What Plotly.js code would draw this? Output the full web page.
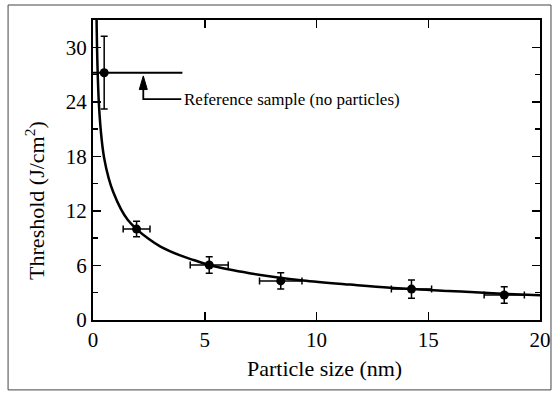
<!DOCTYPE html>
<html>
<head>
<meta charset="utf-8">
<script src="https://cdn.plot.ly/plotly-3.0.1.min.js"></script>
<style>html,body{margin:0;padding:0;background:#fff;}#chart{width:558px;height:395px;}</style>
</head>
<body>
<div id="chart"></div>
<script>
// Measured points
const sizeNm      = [0.5, 1.95, 5.2, 8.4, 14.25, 18.4];
const thresholdJ  = [27.2, 10.0, 6.05, 4.3, 3.4, 2.75];
const thresholdErr= [4.0, 0.85, 0.9, 0.9, 1.0, 0.9];
const sizeErr     = [0, 0.6, 0.85, 0.95, 0.9, 0.9];

// Fitted curve
const fitX = [0.16, 0.2, 0.27, 0.39, 0.5, 0.7, 0.9, 1.25, 1.56, 1.95, 2.5, 3.0, 3.9, 4.5, 5.2, 6.1, 7.0, 8.2, 9.4, 11.5, 13.3, 15.9, 18.3, 20];
const fitY = [33, 28, 23.5, 19.8, 17.8, 15.6, 14.1, 12.2, 11.0, 10.0, 8.9, 8.1, 7.1, 6.6, 6.05, 5.55, 5.15, 4.7, 4.35, 3.9, 3.55, 3.2, 2.9, 2.72];

// Reference sample level
const refLevel = 27.2;
const refLineEnd = 4.0;
const refLabel = "Reference sample (no particles)";

const xTicks = [0, 5, 10, 15, 20];
const yTicks = [0, 6, 12, 18, 24, 30];
const xTitle = 'Particle size (nm)';
const yTitle = 'Threshold (J/cm<sup>2</sup>)';

const FONT = "Liberation Serif, Times New Roman, serif";

const traces = [
  {
    x: fitX, y: fitY, mode: 'lines', type: 'scatter',
    line: {color: '#000', width: 2.5, shape: 'spline', smoothing: 1},
    hoverinfo: 'skip', showlegend: false
  },
  {
    x: sizeNm, y: thresholdJ, mode: 'markers', type: 'scatter',
    marker: {symbol: 'circle', size: 9, color: '#000'},
    error_y: {type: 'data', array: thresholdErr, visible: true, color: '#000', thickness: 1.5, width: 3.5},
    error_x: {type: 'data', array: sizeErr, visible: true, color: '#000', thickness: 1.5, width: 3.5},
    showlegend: false
  }
];

const layout = {
  width: 558, height: 395,
  margin: {l: 93, r: 18, t: 20, b: 75},
  paper_bgcolor: '#fff', plot_bgcolor: '#fff',
  font: {family: FONT, color: '#000', size: 21},
  showlegend: false,
  xaxis: {
    range: [0, 20], tickvals: xTicks, ticktext: xTicks.map(String),
    ticks: 'inside', ticklen: 8, tickwidth: 1.5, tickcolor: '#000',
    showline: true, linecolor: '#000', linewidth: 2, mirror: 'allticks',
    showgrid: false, zeroline: false,
    tickfont: {family: FONT, size: 21, color: '#000'}
  },
  yaxis: {
    range: [0, 33], tickvals: yTicks, ticktext: yTicks.map(String),
    ticks: 'inside', ticklen: 8, tickwidth: 1.5, tickcolor: '#000',
    minor: {tickvals: [3, 9, 15, 21, 27], ticks: 'inside', ticklen: 5, tickwidth: 1.5, tickcolor: '#000'},
    showline: true, linecolor: '#000', linewidth: 2, mirror: 'allticks',
    showgrid: false, zeroline: false,
    tickfont: {family: FONT, size: 21, color: '#000'}
  },
  shapes: [
    {type: 'rect', xref: 'paper', yref: 'paper', x0: -0.19, x1: 1.0246, y0: -0.233, y1: 1.05,
     line: {color: '#444', width: 1}, fillcolor: 'rgba(0,0,0,0)', layer: 'below'},
    {type: 'line', xref: 'x', yref: 'y', x0: -0.3, x1: refLineEnd, y0: refLevel, y1: refLevel,
     line: {color: '#000', width: 2}},
    {type: 'path', xref: 'x', yref: 'y',
     path: 'M 2.25 25.6 L 2.25 24.3 L 3.95 24.3',
     line: {color: '#000', width: 1.8}},
    {type: 'path', xref: 'x', yref: 'y',
     path: 'M 2.25 26.85 L 2.07 25.35 L 2.43 25.35 Z',
     line: {color: '#000', width: 1}, fillcolor: '#000'}
  ],
  annotations: [
    {x: 4.0, y: 24.3, xref: 'x', yref: 'y', xanchor: 'left', yanchor: 'middle',
     text: refLabel, showarrow: false, font: {family: FONT, size: 17, color: '#000'}},
    {x: 0.517, y: -0.163, xref: 'paper', yref: 'paper', xanchor: 'center', yanchor: 'middle',
     text: xTitle, showarrow: false, font: {family: FONT, size: 22, color: '#000'}},
    {x: -0.13, y: 0.4, xref: 'paper', yref: 'paper', xanchor: 'center', yanchor: 'middle',
     textangle: -90, text: yTitle, showarrow: false, font: {family: FONT, size: 22, color: '#000'}}
  ]
};

Plotly.newPlot('chart', traces, layout, {displayModeBar: false, staticPlot: true});
</script>
</body>
</html>
